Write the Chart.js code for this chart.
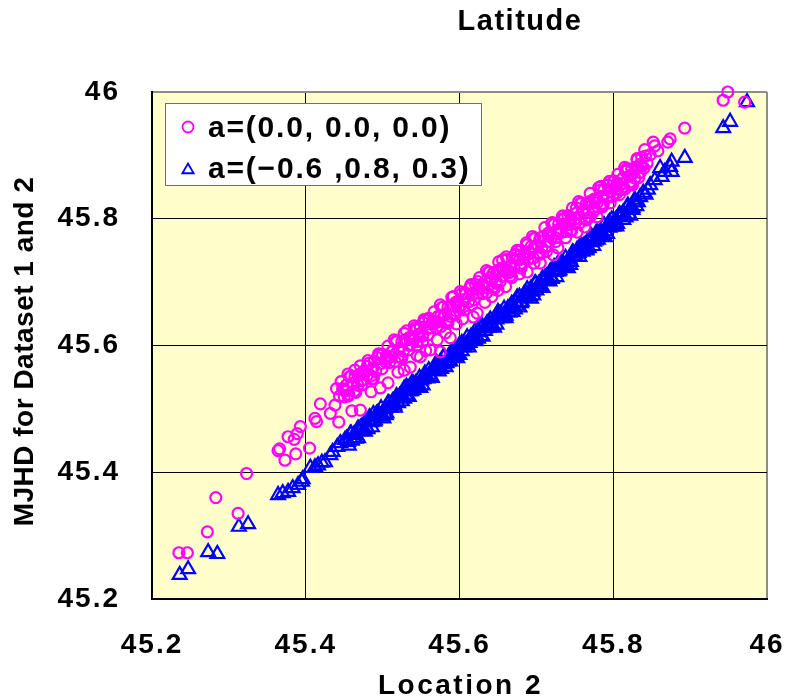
<!DOCTYPE html>
<html>
<head>
<meta charset="utf-8">
<script src="https://cdn.jsdelivr.net/npm/chart.js@4.4.0/dist/chart.umd.min.js"></script>
<style>
  html, body { margin: 0; padding: 0; background: #fff; }
  #wrap { width: 785px; height: 698px; }
</style>
</head>
<body>
<div id="wrap"><canvas id="c" width="785" height="698"></canvas></div>
<script>
// Axis ticks
const xTickValues = [45.2, 45.4, 45.6, 45.8, 46];
const xTickLabels = ['45.2', '45.4', '45.6', '45.8', '46'];
const yTickValues = [45.2, 45.4, 45.6, 45.8, 46];
const yTickLabels = ['45.2', '45.4', '45.6', '45.8', '46'];

// Titles and series names
const chartTitle = 'Latitude';
const xTitle = 'Location 2';
const yTitle = 'MJHD for Dataset 1 and 2';
const seriesNames = ['a=(0.0, 0.0, 0.0)', 'a=(\u22120.6 ,0.8, 0.3)'];

// Series 1: a=(0.0, 0.0, 0.0)  [location 2, MJHD]
const ringPoints = [
  [45.235,45.273],[45.246,45.273],[45.272,45.306],[45.283,45.360],[45.312,45.335],[45.323,45.398],
  [45.364,45.434],[45.366,45.437],[45.373,45.419],[45.377,45.456],[45.385,45.452],[45.387,45.429],
  [45.389,45.461],[45.393,45.472],[45.405,45.438],[45.412,45.485],[45.414,45.480],[45.419,45.508],
  [45.432,45.493],[45.438,45.506],[45.443,45.479],[45.450,45.530],
  [45.440,45.532],[45.444,45.520],[45.446,45.543],[45.450,45.519],[45.453,45.538],[45.455,45.520],[45.459,45.552],[45.462,45.540],[45.464,45.551],[45.468,45.537],
  [45.471,45.568],[45.473,45.538],[45.477,45.557],[45.480,45.553],[45.482,45.572],[45.486,45.547],[45.489,45.575],[45.491,45.559],[45.495,45.587],[45.498,45.572],
  [45.500,45.586],[45.504,45.574],[45.507,45.599],[45.509,45.573],[45.513,45.592],[45.516,45.575],[45.518,45.606],[45.522,45.595],[45.525,45.606],[45.527,45.591],
  [45.531,45.623],[45.534,45.593],[45.536,45.610],[45.540,45.608],[45.543,45.628],[45.545,45.600],[45.549,45.629],[45.552,45.615],[45.554,45.641],[45.558,45.626],
  [45.561,45.642],[45.563,45.628],[45.567,45.653],[45.570,45.628],[45.572,45.646],[45.576,45.630],[45.579,45.661],[45.581,45.648],[45.585,45.661],[45.588,45.646],
  [45.590,45.676],[45.594,45.648],[45.597,45.666],[45.599,45.661],[45.603,45.682],[45.606,45.656],[45.608,45.682],[45.612,45.669],[45.615,45.696],[45.617,45.680],
  [45.621,45.696],[45.624,45.683],[45.626,45.707],[45.630,45.682],[45.633,45.701],[45.635,45.683],[45.639,45.716],[45.642,45.703],[45.644,45.714],[45.648,45.701],
  [45.651,45.732],[45.653,45.701],[45.657,45.720],[45.660,45.717],[45.662,45.736],[45.666,45.710],[45.669,45.738],[45.671,45.723],[45.675,45.750],[45.678,45.735],
  [45.680,45.750],[45.684,45.738],[45.687,45.762],[45.689,45.736],[45.693,45.756],[45.696,45.738],[45.698,45.769],[45.702,45.758],[45.705,45.770],[45.707,45.754],
  [45.711,45.786],[45.714,45.757],[45.716,45.774],[45.720,45.771],[45.723,45.791],[45.725,45.764],[45.729,45.792],[45.732,45.778],[45.734,45.804],[45.738,45.790],
  [45.741,45.805],[45.743,45.791],[45.747,45.817],[45.750,45.792],[45.752,45.809],[45.756,45.793],[45.759,45.825],[45.761,45.811],[45.765,45.824],[45.768,45.810],
  [45.770,45.840],[45.774,45.811],[45.777,45.829],[45.779,45.825],[45.783,45.845],[45.786,45.819],[45.788,45.846],[45.792,45.833],[45.795,45.859],[45.797,45.843],
  [45.801,45.860],[45.804,45.847],[45.806,45.870],[45.810,45.846],[45.813,45.865],[45.815,45.847],[45.819,45.879],[45.822,45.867],[45.824,45.878],[45.828,45.864],
  [45.831,45.895],[45.833,45.865],[45.837,45.883],[45.840,45.880],[45.842,45.899],
  [45.451,45.528],[45.457,45.551],[45.463,45.528],[45.469,45.554],[45.475,45.546],[45.481,45.576],[45.487,45.564],[45.493,45.581],[45.499,45.563],[45.505,45.584],
  [45.511,45.582],[45.517,45.606],[45.523,45.582],[45.529,45.609],[45.535,45.600],[45.541,45.631],[45.547,45.618],[45.553,45.636],[45.559,45.617],[45.565,45.638],
  [45.571,45.637],[45.577,45.660],[45.583,45.637],[45.589,45.663],[45.595,45.655],[45.601,45.685],[45.607,45.673],[45.613,45.690],[45.619,45.672],[45.625,45.693],
  [45.631,45.691],[45.637,45.715],[45.643,45.691],[45.649,45.718],[45.655,45.709],[45.661,45.740],[45.667,45.727],[45.673,45.744],[45.679,45.726],[45.685,45.747],
  [45.691,45.746],[45.697,45.769],[45.703,45.746],[45.709,45.772],[45.715,45.764],[45.721,45.794],[45.727,45.782],[45.733,45.799],[45.739,45.780],[45.745,45.802],
  [45.751,45.800],[45.757,45.824],[45.763,45.800],[45.769,45.827],[45.775,45.818],[45.781,45.849],[45.787,45.836],[45.793,45.853],[45.799,45.835],[45.805,45.856],
  [45.811,45.855],[45.817,45.878],[45.823,45.855],[45.829,45.881],[45.835,45.873],
  [45.455,45.555],[45.465,45.526],[45.475,45.559],[45.485,45.552],[45.495,45.586],[45.505,45.580],[45.515,45.609],[45.525,45.580],[45.535,45.613],[45.545,45.606],
  [45.555,45.640],[45.565,45.634],[45.575,45.664],[45.585,45.635],[45.595,45.668],[45.605,45.661],[45.615,45.695],[45.625,45.689],[45.635,45.718],[45.645,45.689],
  [45.655,45.722],[45.665,45.715],[45.675,45.749],[45.685,45.743],[45.695,45.772],[45.705,45.744],[45.715,45.777],[45.725,45.770],[45.735,45.804],[45.745,45.798],
  [45.755,45.827],[45.765,45.798],[45.775,45.831],[45.785,45.824],[45.795,45.858],[45.805,45.852],[45.815,45.881],[45.825,45.853],[45.835,45.886],
  [45.448,45.532],[45.456,45.523],[45.464,45.561],[45.472,45.544],[45.480,45.567],[45.488,45.548],[45.496,45.585],[45.504,45.579],[45.512,45.590],[45.520,45.582],
  [45.528,45.619],[45.536,45.602],[45.544,45.625],[45.552,45.606],[45.560,45.643],[45.568,45.637],[45.576,45.648],[45.584,45.640],[45.592,45.677],[45.600,45.660],
  [45.608,45.683],[45.616,45.664],[45.624,45.701],[45.632,45.695],[45.640,45.707],[45.648,45.698],[45.656,45.735],[45.664,45.718],[45.672,45.742],[45.680,45.722],
  [45.688,45.759],[45.696,45.753],[45.704,45.765],[45.712,45.756],[45.720,45.793],[45.728,45.776],[45.736,45.800],[45.744,45.780],[45.752,45.817],[45.760,45.812],
  [45.768,45.823],[45.776,45.814],[45.784,45.851],[45.792,45.835],[45.800,45.858],[45.808,45.838],[45.816,45.875],[45.824,45.870],[45.832,45.881],
  [45.471,45.498],[45.507,45.541],[45.536,45.566],[45.549,45.582],[45.562,45.593],[45.571,45.609],[45.575,45.590],[45.588,45.612],
  [45.618,45.645],[45.623,45.651],[45.642,45.677],[45.668,45.707],[45.688,45.716],[45.705,45.730],[45.722,45.743],[45.728,45.754],
  [45.753,45.779],[45.763,45.787],[45.779,45.803],[45.796,45.825],[45.813,45.850],
  [45.460,45.497],[45.485,45.527],[45.497,45.533],[45.520,45.558],[45.528,45.561],[45.545,45.584],[45.556,45.592],[45.582,45.620],
  [45.596,45.634],[45.604,45.642],[45.633,45.668],[45.650,45.687],[45.660,45.693],[45.678,45.713],[45.697,45.730],[45.713,45.748],
  [45.738,45.770],[45.746,45.781],[45.770,45.803],[45.787,45.822],[45.805,45.841],[45.822,45.858],
  [45.831,45.893],[45.837,45.897],[45.844,45.888],[45.848,45.901],[45.841,45.909],[45.852,45.921],[45.854,45.915],[45.858,45.907],
  [45.871,45.921],[45.874,45.926],[45.893,45.943],[45.943,45.987],[45.949,46.000],[45.971,45.984]
];

// Series 2: a=(-0.6, 0.8, 0.3)  [location 2, MJHD]
const trianglePoints = [
  [45.236,45.238],[45.247,45.247],[45.273,45.274],[45.285,45.271],[45.313,45.314],[45.325,45.318],
  [45.364,45.364],[45.370,45.367],[45.377,45.369],[45.383,45.375],[45.390,45.380],[45.395,45.385],[45.396,45.389],
  [45.406,45.407],[45.412,45.408],[45.416,45.411],[45.421,45.415],[45.425,45.416],[45.432,45.427],[45.435,45.432],
  [45.441,45.440],[45.445,45.446],[45.451,45.451],
  [45.453,45.453],[45.455,45.448],[45.458,45.461],[45.460,45.450],[45.463,45.460],[45.465,45.453],[45.468,45.469],[45.470,45.465],[45.473,45.472],[45.475,45.466],
  [45.478,45.480],[45.480,45.469],[45.483,45.481],[45.485,45.479],[45.488,45.492],[45.490,45.482],[45.493,45.493],[45.495,45.488],[45.498,45.501],[45.500,45.490],
  [45.503,45.500],[45.505,45.493],[45.508,45.509],[45.510,45.505],[45.513,45.512],[45.515,45.506],[45.518,45.520],[45.520,45.509],[45.523,45.521],[45.525,45.519],
  [45.528,45.532],[45.530,45.522],[45.533,45.533],[45.535,45.528],[45.538,45.541],[45.540,45.530],[45.543,45.540],[45.545,45.533],[45.548,45.549],[45.550,45.545],
  [45.553,45.547],[45.555,45.553],[45.558,45.548],[45.560,45.561],[45.563,45.551],[45.565,45.562],[45.568,45.561],[45.570,45.573],[45.573,45.564],[45.575,45.574],
  [45.578,45.570],[45.580,45.582],[45.583,45.572],[45.585,45.581],[45.588,45.575],[45.590,45.590],[45.593,45.587],[45.595,45.593],[45.598,45.588],[45.600,45.601],
  [45.603,45.591],[45.605,45.602],[45.608,45.601],[45.610,45.613],[45.613,45.604],[45.615,45.614],[45.618,45.610],[45.620,45.622],[45.623,45.612],[45.625,45.621],
  [45.628,45.615],[45.630,45.630],[45.633,45.627],[45.635,45.633],[45.638,45.628],[45.640,45.641],[45.643,45.631],[45.645,45.642],[45.648,45.641],[45.650,45.653],
  [45.653,45.650],[45.655,45.645],[45.658,45.658],[45.660,45.647],[45.663,45.657],[45.665,45.652],[45.668,45.666],[45.670,45.662],[45.673,45.669],[45.675,45.663],
  [45.678,45.677],[45.680,45.667],[45.683,45.678],[45.685,45.676],[45.688,45.689],[45.690,45.679],[45.693,45.690],[45.695,45.685],[45.698,45.698],[45.700,45.687],
  [45.703,45.697],[45.705,45.692],[45.708,45.706],[45.710,45.702],[45.713,45.709],[45.715,45.703],[45.718,45.717],[45.720,45.707],[45.723,45.718],[45.725,45.716],
  [45.728,45.729],[45.730,45.719],[45.733,45.730],[45.735,45.725],[45.738,45.738],[45.740,45.727],[45.743,45.737],[45.745,45.732],[45.748,45.746],[45.750,45.742],
  [45.753,45.751],[45.755,45.746],[45.758,45.759],[45.760,45.748],[45.763,45.758],[45.765,45.752],[45.768,45.767],[45.770,45.763],[45.773,45.770],[45.775,45.764],
  [45.778,45.778],[45.780,45.767],[45.783,45.779],[45.785,45.777],[45.788,45.790],[45.790,45.780],[45.793,45.791],[45.795,45.786],[45.798,45.799],[45.800,45.788],
  [45.803,45.798],[45.805,45.792],[45.808,45.807],[45.810,45.803],[45.813,45.810],[45.815,45.804],[45.818,45.818],[45.820,45.807],[45.823,45.819],[45.825,45.817],
  [45.828,45.830],[45.830,45.820],[45.832,45.826],[45.842,45.838],[45.845,45.846],
  [45.456,45.442],[45.462,45.454],[45.468,45.454],[45.474,45.472],[45.480,45.468],[45.486,45.471],[45.492,45.492],[45.498,45.488],
  [45.504,45.490],[45.510,45.502],[45.516,45.502],[45.522,45.520],[45.528,45.516],[45.534,45.519],[45.540,45.540],[45.546,45.536],
  [45.552,45.537],[45.558,45.549],[45.564,45.549],[45.570,45.567],[45.576,45.563],[45.582,45.566],[45.588,45.587],[45.594,45.583],
  [45.600,45.585],[45.606,45.597],[45.612,45.597],[45.618,45.615],[45.624,45.611],[45.630,45.614],[45.636,45.635],[45.642,45.631],
  [45.648,45.633],[45.654,45.643],[45.660,45.643],[45.666,45.661],[45.672,45.657],[45.678,45.660],[45.684,45.681],[45.690,45.677],
  [45.696,45.679],[45.702,45.691],[45.708,45.691],[45.714,45.709],[45.720,45.705],[45.726,45.708],[45.732,45.729],[45.738,45.725],
  [45.744,45.727],[45.750,45.740],[45.756,45.740],[45.762,45.758],[45.768,45.754],[45.774,45.757],[45.780,45.778],[45.786,45.774],
  [45.792,45.776],[45.798,45.788],[45.804,45.788],[45.810,45.806],[45.816,45.802],[45.822,45.805],[45.828,45.826],
  [45.459,45.461],[45.465,45.459],[45.471,45.470],[45.477,45.464],[45.483,45.487],[45.489,45.480],[45.495,45.492],[45.501,45.485],
  [45.507,45.509],[45.513,45.507],[45.519,45.518],[45.525,45.512],[45.531,45.535],[45.537,45.528],[45.543,45.540],[45.549,45.533],
  [45.555,45.556],[45.561,45.554],[45.567,45.565],[45.573,45.559],[45.579,45.582],[45.585,45.575],[45.591,45.587],[45.597,45.580],
  [45.603,45.604],[45.609,45.602],[45.615,45.613],[45.621,45.607],[45.627,45.630],[45.633,45.623],[45.639,45.635],[45.645,45.628],
  [45.651,45.650],[45.657,45.648],[45.663,45.659],[45.669,45.653],[45.675,45.676],[45.681,45.669],[45.687,45.681],[45.693,45.674],
  [45.699,45.698],[45.705,45.696],[45.711,45.707],[45.717,45.701],[45.723,45.724],[45.729,45.717],[45.735,45.729],[45.741,45.722],
  [45.747,45.747],[45.753,45.745],[45.759,45.756],[45.765,45.750],[45.771,45.773],[45.777,45.766],[45.783,45.778],[45.789,45.771],
  [45.795,45.795],[45.801,45.793],[45.807,45.804],[45.813,45.798],[45.819,45.821],[45.825,45.814],
  [45.835,45.834],[45.839,45.841],[45.848,45.853],[45.854,45.861],[45.861,45.880],[45.863,45.866],[45.867,45.874],[45.874,45.882],
  [45.876,45.890],[45.876,45.874],[45.893,45.896],[45.943,45.943],[45.952,45.953],[45.974,45.984]
];

const FONT = "'Liberation Sans', Arial, sans-serif";
const PLOT_BG = '#ffffcc';

const toXY = pts => pts.map(([x, y]) => ({ x, y }));
const edgeTick = c => c.tick && c.tick.value === 46;

// Plot background, titles and the boxed legend inside the plot
const decor = {
  id: 'decor',
  beforeDraw(chart) {
    const { ctx, chartArea: a } = chart;
    ctx.save();
    ctx.fillStyle = '#fff';
    ctx.fillRect(0, 0, chart.width, chart.height);
    ctx.fillStyle = PLOT_BG;
    ctx.fillRect(a.left, a.top, a.right - a.left, a.bottom - a.top);
    ctx.restore();
    ctx.letterSpacing = '2px';
  },
  afterDraw(chart) {
    const { ctx, chartArea: a } = chart;
    ctx.save();
    ctx.fillStyle = '#000';
    ctx.textAlign = 'center';
    ctx.textBaseline = 'middle';

    ctx.font = `bold 29px ${FONT}`;
    ctx.letterSpacing = '1.5px';
    ctx.fillText(chartTitle, 520, 22);

    ctx.font = `bold 28px ${FONT}`;
    ctx.letterSpacing = '2.5px';
    ctx.fillText(xTitle, (a.left + a.right) / 2 + 1, 686);

    ctx.save();
    ctx.translate(25, (a.top + a.bottom) / 2 + 6);
    ctx.rotate(-Math.PI / 2);
    ctx.font = `bold 28px ${FONT}`;
    ctx.letterSpacing = '0.5px';
    ctx.fillText(yTitle, 0, 0);
    ctx.restore();

    // legend box
    const lx = 165, ly = 103, lw = 316, lh = 82;
    ctx.fillStyle = '#fff';
    ctx.fillRect(lx, ly, lw, lh);
    ctx.strokeStyle = '#6e6e6e';
    ctx.lineWidth = 1;
    ctx.strokeRect(lx + 0.5, ly + 0.5, lw, lh);

    const rows = [129, 170];
    chart.data.datasets.forEach((ds, i) => {
      ctx.strokeStyle = ds.pointBorderColor;
      ctx.fillStyle = 'rgba(0,0,0,0)';
      ctx.lineWidth = 1.8;
      Chart.helpers.drawPoint(ctx, {
        pointStyle: ds.pointStyle,
        radius: i === 0 ? 5.5 : 6.5,
        borderWidth: 1.8,
        rotation: 0
      }, 188, i === 0 ? rows[i] - 2 : rows[i]);
      ctx.fillStyle = '#000';
      ctx.font = `bold 30px ${FONT}`;
      ctx.letterSpacing = '1.8px';
      ctx.textAlign = 'left';
      ctx.fillText(ds.label, 208, rows[i]);
    });
    ctx.restore();
    ctx.letterSpacing = '2px';
  }
};

new Chart(document.getElementById('c'), {
  type: 'scatter',
  data: {
    datasets: [
      {
        label: seriesNames[0],
        data: toXY(ringPoints),
        pointStyle: 'circle',
        pointRadius: 5.5,
        pointBorderWidth: 2.2,
        pointBorderColor: '#ff00ff',
        pointBackgroundColor: 'rgba(0,0,0,0)',
        borderColor: '#ff00ff',
        showLine: false,
        clip: false
      },
      {
        label: seriesNames[1],
        data: toXY(trianglePoints),
        pointStyle: 'triangle',
        pointRadius: 8,
        pointBorderWidth: 2.2,
        pointBorderColor: '#0000ff',
        pointBackgroundColor: 'rgba(0,0,0,0)',
        borderColor: '#0000ff',
        showLine: false,
        clip: false
      }
    ]
  },
  options: {
    responsive: false,
    animation: false,
    devicePixelRatio: 1,
    events: [],
    layout: { padding: { top: 92, right: 18, left: 0, bottom: 0 } },
    plugins: {
      legend: { display: false },
      tooltip: { enabled: false },
      title: { display: false }
    },
    scales: {
      x: {
        type: 'linear',
        min: 45.2,
        max: 46,
        afterBuildTicks(axis) { axis.ticks = xTickValues.map(v => ({ value: v })); },
        afterFit(axis) { axis.height = 99; axis.paddingLeft = 0; axis.paddingRight = 0; },
        ticks: {
          autoSkip: false,
          maxRotation: 0,
          padding: 29,
          color: '#000',
          font: { family: FONT, size: 28, weight: 'bold' },
          callback: (v, i) => xTickLabels[i]
        },
        grid: {
          drawTicks: false,
          color: c => edgeTick(c) ? '#8c8c8c' : '#000',
          lineWidth: c => edgeTick(c) ? 2 : 1
        },
        border: { color: '#000', width: 2 }
      },
      y: {
        type: 'linear',
        min: 45.2,
        max: 46,
        afterBuildTicks(axis) { axis.ticks = yTickValues.map(v => ({ value: v })); },
        afterFit(axis) { axis.width = 152; axis.paddingTop = 0; axis.paddingBottom = 0; },
        ticks: {
          autoSkip: false,
          padding: 32,
          color: '#000',
          font: { family: FONT, size: 28, weight: 'bold' },
          callback: (v, i) => yTickLabels[i]
        },
        grid: {
          drawTicks: false,
          color: c => edgeTick(c) ? '#8c8c8c' : '#000',
          lineWidth: c => edgeTick(c) ? 2 : 1
        },
        border: { color: '#000', width: 2 }
      }
    }
  },
  plugins: [decor]
});
</script>
</body>
</html>
